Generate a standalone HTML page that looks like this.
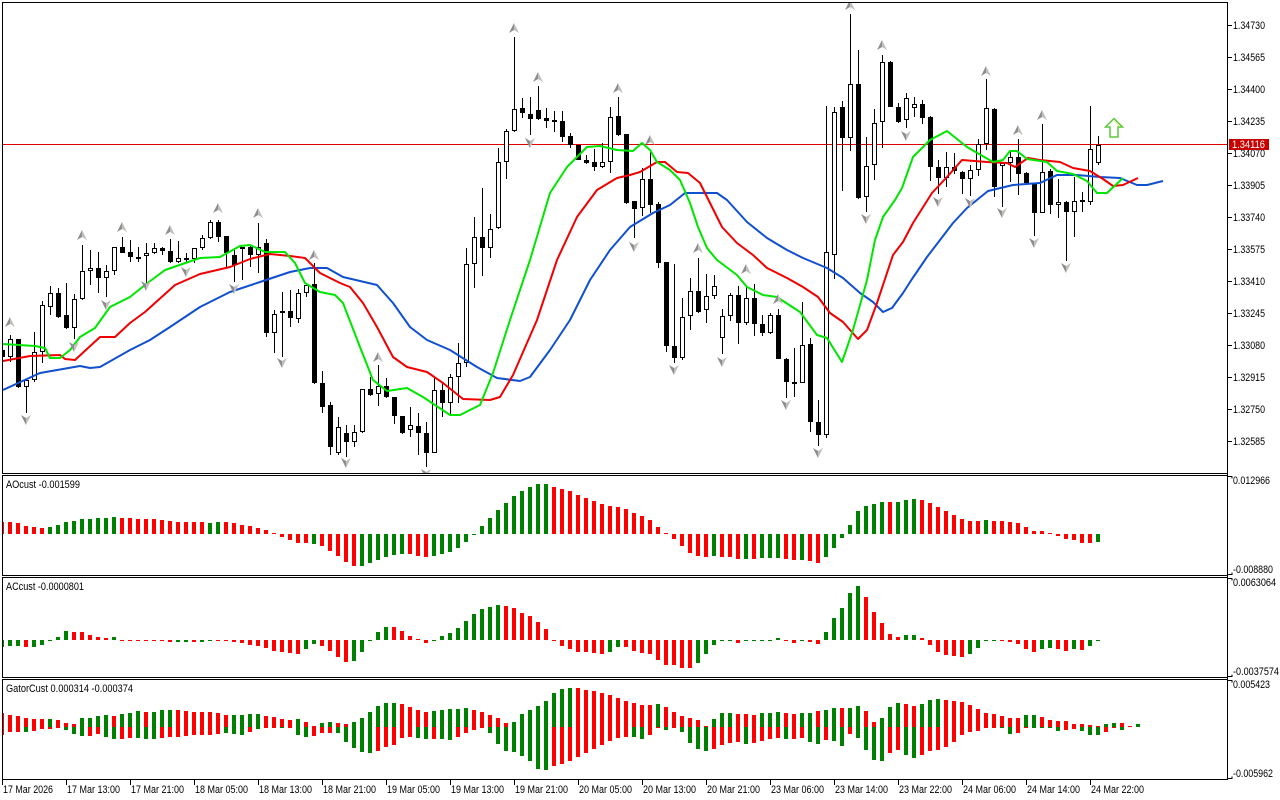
<!DOCTYPE html>
<html><head><meta charset="utf-8"><style>
html,body{margin:0;padding:0;background:#fff;}
svg{display:block;font-family:"Liberation Sans",Arial,sans-serif;}
</style></head><body>
<svg xmlns="http://www.w3.org/2000/svg" width="1280" height="800" viewBox="0 0 1280 800">
<defs>
<clipPath id="cm"><rect x="3" y="3" width="1224" height="470"/></clipPath>
<clipPath id="cs"><rect x="3" y="476" width="1224" height="303"/></clipPath>
<g id="fu"><path d="M0 -5L0 2L-5 5Z" fill="#8c8c94"/><path d="M0 -5L5 5L0 2Z" fill="#c4c0b8"/></g>
<g id="fd"><path d="M0 5L0 -2L-5 -5Z" fill="#8c8c94"/><path d="M0 5L5 -5L0 -2Z" fill="#c4c0b8"/></g>
</defs>
<rect width="1280" height="800" fill="#fff"/>

<g clip-path="url(#cm)">
<path d="M3 144.5H1227" stroke="#e00000" stroke-width="1" shape-rendering="crispEdges"/>
<path shape-rendering="crispEdges" stroke="#000" stroke-width="1" fill="none" d="M10.5 335V362M18.5 339V388M26.5 380V413M34.5 332V382M42.5 301V363M50.5 286V315M58.5 288V318M66.5 283V329M74.5 294V339M82.5 245V300M90.5 250V285M98.5 252V293M106.5 265V297M114.5 247V275M122.5 237V253M130.5 240V262M138.5 247V262M146.5 243V287M154.5 243V254M162.5 247V255M170.5 239V263M178.5 241V263M186.5 253V263M194.5 248V263M202.5 235V250M210.5 220V239M218.5 220V242M226.5 236V267M234.5 248V282M242.5 247V280M250.5 245V267M258.5 223V273M266.5 239V337M274.5 310V353M282.5 292V357M290.5 290V327M298.5 289V323M306.5 285V297M314.5 263V384M322.5 371V413M330.5 402V455M338.5 417V455M346.5 425V457M354.5 425V447M362.5 389V433M370.5 377V396M378.5 365V406M386.5 378V398M394.5 397V424M402.5 416V434M410.5 407V437M418.5 413V455M426.5 422V467M434.5 378V453M442.5 383V417M450.5 374V416M458.5 343V403M466.5 248V367M474.5 217V288M482.5 188V276M490.5 214V258M498.5 148V229M506.5 129V179M514.5 37V132M522.5 98V118M530.5 97V135M538.5 86V120M546.5 108V128M554.5 111V132M562.5 111V142M570.5 133V148M578.5 145V160M586.5 155V164M594.5 149V171M602.5 143V168M610.5 107V173M618.5 97V136M626.5 134V204M634.5 201V238M642.5 168V216M650.5 150V213M658.5 202V268M666.5 262V352M674.5 264V363M682.5 298V360M690.5 278V330M698.5 258V313M706.5 274V323M714.5 275V299M722.5 309V354M730.5 293V321M738.5 286V344M746.5 287V325M754.5 284V336M762.5 315V336M770.5 313V334M778.5 309V359M786.5 358V398M794.5 348V397M802.5 302V383M810.5 338V432M818.5 400V446M826.5 106V438M834.5 107V279M842.5 101V191M850.5 14V151M858.5 50V199M866.5 137V212M874.5 109V180M882.5 55V148M890.5 61V107M898.5 103V123M906.5 93V128M914.5 97V117M922.5 100V124M930.5 116V181M938.5 160V194M946.5 152V187M954.5 153V174M962.5 171V194M970.5 165V196M978.5 139V176M986.5 79V150M994.5 108V197M1002.5 163V207M1010.5 151V182M1018.5 139V195M1026.5 172V184M1034.5 183V236M1042.5 124V213M1050.5 169V214M1058.5 179V218M1066.5 201V261M1074.5 177V237M1082.5 192V212M1090.5 106V205M1098.5 136V165"/>
<path shape-rendering="crispEdges" fill="#000" d="M3 350h2V357h-2zM16 339h5V387h-5zM56 293h5V317h-5zM64 315h5V328h-5zM96 268h5V278h-5zM120 247h5V253h-5zM128 252h5V257h-5zM136 257h5V259h-5zM160 248h5V251h-5zM168 251h5V262h-5zM184 258h5V260h-5zM216 222h5V237h-5zM224 236h5V253h-5zM232 255h5V265h-5zM240 247h5V249h-5zM248 247h5V255h-5zM264 243h5V333h-5zM280 311h5V313h-5zM288 311h5V318h-5zM312 284h5V383h-5zM320 383h5V407h-5zM328 405h5V447h-5zM344 433h5V442h-5zM368 389h5V395h-5zM384 386h5V397h-5zM392 397h5V416h-5zM400 416h5V433h-5zM416 426h5V433h-5zM424 433h5V453h-5zM440 390h5V403h-5zM480 237h5V248h-5zM520 108h5V113h-5zM528 114h5V119h-5zM536 110h5V119h-5zM544 118h5V121h-5zM552 120h5V122h-5zM560 121h5V137h-5zM568 136h5V145h-5zM576 145h5V160h-5zM584 160h5V163h-5zM592 162h5V167h-5zM616 116h5V135h-5zM624 134h5V203h-5zM632 201h5V209h-5zM648 179h5V205h-5zM656 204h5V263h-5zM664 262h5V346h-5zM672 346h5V358h-5zM696 291h5V312h-5zM736 295h5V323h-5zM752 298h5V324h-5zM760 324h5V333h-5zM776 315h5V359h-5zM784 359h5V382h-5zM792 382h5V384h-5zM808 344h5V422h-5zM816 422h5V435h-5zM840 107h5V138h-5zM856 84h5V198h-5zM888 62h5V107h-5zM896 107h5V122h-5zM920 104h5V118h-5zM928 117h5V167h-5zM936 167h5V178h-5zM952 167h5V171h-5zM960 172h5V179h-5zM992 109h5V187h-5zM1016 157h5V174h-5zM1024 173h5V183h-5zM1032 183h5V213h-5zM1048 171h5V205h-5zM1064 202h5V212h-5zM1080 200h5V202h-5z"/>
<g shape-rendering="crispEdges" fill="#fff" stroke="#000" stroke-width="1">
<rect x="8.5" y="339.5" width="4" height="17"/><rect x="24.5" y="380.5" width="4" height="6"/><rect x="32.5" y="352.5" width="4" height="27"/><rect x="40.5" y="305.5" width="4" height="46"/><rect x="48.5" y="293.5" width="4" height="13"/><rect x="72.5" y="299.5" width="4" height="28"/><rect x="80.5" y="271.5" width="4" height="27"/><rect x="88.5" y="268.5" width="4" height="2"/><rect x="104.5" y="271.5" width="4" height="6"/><rect x="112.5" y="247.5" width="4" height="23"/><rect x="144.5" y="253.5" width="4" height="2"/><rect x="152.5" y="248.5" width="4" height="4"/><rect x="176.5" y="258.5" width="4" height="3"/><rect x="192.5" y="248.5" width="4" height="10"/><rect x="200.5" y="238.5" width="4" height="9"/><rect x="208.5" y="222.5" width="4" height="15"/><rect x="256.5" y="247.5" width="4" height="7"/><rect x="272.5" y="314.5" width="4" height="18"/><rect x="296.5" y="293.5" width="4" height="25"/><rect x="304.5" y="285.5" width="4" height="7"/><rect x="336.5" y="427.5" width="4" height="25"/><rect x="352.5" y="432.5" width="4" height="9"/><rect x="360.5" y="389.5" width="4" height="42"/><rect x="376.5" y="386.5" width="4" height="7"/><rect x="408.5" y="425.5" width="4" height="4"/><rect x="432.5" y="390.5" width="4" height="62"/><rect x="448.5" y="377.5" width="4" height="25"/><rect x="456.5" y="363.5" width="4" height="13"/><rect x="464.5" y="264.5" width="4" height="98"/><rect x="472.5" y="237.5" width="4" height="26"/><rect x="488.5" y="229.5" width="4" height="18"/><rect x="496.5" y="162.5" width="4" height="65"/><rect x="504.5" y="131.5" width="4" height="30"/><rect x="512.5" y="109.5" width="4" height="21"/><rect x="600.5" y="162.5" width="4" height="4"/><rect x="608.5" y="117.5" width="4" height="44"/><rect x="640.5" y="179.5" width="4" height="28"/><rect x="680.5" y="317.5" width="4" height="40"/><rect x="688.5" y="291.5" width="4" height="24"/><rect x="704.5" y="296.5" width="4" height="13"/><rect x="712.5" y="286.5" width="4" height="9"/><rect x="720.5" y="316.5" width="4" height="21"/><rect x="728.5" y="295.5" width="4" height="20"/><rect x="744.5" y="298.5" width="4" height="24"/><rect x="768.5" y="315.5" width="4" height="17"/><rect x="800.5" y="345.5" width="4" height="37"/><rect x="824.5" y="252.5" width="4" height="182"/><rect x="832.5" y="112.5" width="4" height="142"/><rect x="848.5" y="84.5" width="4" height="53"/><rect x="864.5" y="166.5" width="4" height="30"/><rect x="872.5" y="123.5" width="4" height="41"/><rect x="880.5" y="62.5" width="4" height="59"/><rect x="904.5" y="98.5" width="4" height="21"/><rect x="912.5" y="104.5" width="4" height="3"/><rect x="944.5" y="167.5" width="4" height="10"/><rect x="968.5" y="170.5" width="4" height="8"/><rect x="976.5" y="144.5" width="4" height="25"/><rect x="984.5" y="108.5" width="4" height="35"/><rect x="1000.5" y="163.5" width="4" height="2"/><rect x="1008.5" y="157.5" width="4" height="5"/><rect x="1040.5" y="172.5" width="4" height="40"/><rect x="1056.5" y="202.5" width="4" height="2"/><rect x="1072.5" y="201.5" width="4" height="10"/><rect x="1088.5" y="149.5" width="4" height="52"/><rect x="1096.5" y="145.5" width="4" height="17"/>
</g>
<g fill="none" stroke-width="2" stroke-linejoin="round">
<polyline stroke="#1050d0" points="3,390 40,373 80,366 90,368 100,367 130,350 150,340 170,327 200,307 230,292 260,282 290,272 310,268 327,268 343,277 377,285 393,303 410,327 427,340 450,350 477,367 497,378 520,381 530,377 550,350 570,320 590,280 610,250 630,227 653,213 670,205 685,193 717,193 727,200 747,222 767,238 787,250 803,258 827,268 843,278 860,293 873,302 883,312 892,308 903,293 912,279 927,257 953,223 967,208 988,191 1013,185 1040,183 1057,175 1077,175 1100,177 1120,178 1137,185 1147,185 1163,181"/>
<polyline stroke="#f00000" points="3,361 30,356 60,355 65,359 75,360 100,337 115,337 130,323 145,312 175,285 200,274 230,267 250,259 270,254 290,256 305,258 320,273 340,283 350,287 363,303 377,327 393,357 407,367 427,372 443,383 463,399 490,400 500,397 513,375 537,320 557,260 577,217 597,190 617,178 630,175 640,172 657,162 665,162 677,172 688,173 700,183 710,203 722,227 737,243 753,255 767,268 787,278 803,287 818,297 830,313 843,322 858,339 867,330 877,303 893,255 903,242 913,223 932,193 947,177 962,160 987,162 1007,163 1015,167 1028,158 1040,160 1060,162 1073,168 1090,171 1103,179 1113,186 1123,185 1138,178"/>
<polyline stroke="#00e600" points="3,344 35,346 45,348 50,358 60,358 70,350 80,337 95,328 110,307 130,297 145,285 165,270 200,258 220,257 240,246 250,245 265,252 285,252 295,263 305,283 310,286 320,292 335,295 343,303 360,347 373,380 387,391 407,388 423,397 450,415 460,415 480,405 493,373 510,320 530,260 550,193 567,167 587,147 600,146 617,150 633,151 642,143 650,150 657,162 670,170 680,180 690,203 698,227 707,248 717,260 737,275 747,287 763,295 777,297 800,312 817,335 827,338 842,362 853,330 867,280 875,240 883,217 895,200 902,188 913,157 930,140 947,131 967,147 993,162 1003,160 1010,151 1017,151 1027,159 1047,162 1057,171 1073,174 1087,181 1097,193 1107,193 1123,178"/>
</g>
<use href="#fu" x="10" y="322"/><use href="#fu" x="82" y="235"/><use href="#fu" x="122" y="227"/><use href="#fu" x="170" y="230"/><use href="#fu" x="218" y="208"/><use href="#fu" x="258" y="213"/><use href="#fu" x="314" y="255"/><use href="#fu" x="378" y="357"/><use href="#fu" x="514" y="28"/><use href="#fu" x="538" y="77"/><use href="#fu" x="618" y="88"/><use href="#fu" x="650" y="140"/><use href="#fu" x="698" y="248"/><use href="#fu" x="746" y="269"/><use href="#fu" x="778" y="299"/><use href="#fu" x="850" y="5"/><use href="#fu" x="882" y="45"/><use href="#fu" x="986" y="71"/><use href="#fu" x="1018" y="130"/><use href="#fu" x="1042" y="115"/>
<use href="#fd" x="26" y="420"/><use href="#fd" x="74" y="347"/><use href="#fd" x="106" y="305"/><use href="#fd" x="146" y="286"/><use href="#fd" x="186" y="272"/><use href="#fd" x="234" y="289"/><use href="#fd" x="282" y="363"/><use href="#fd" x="346" y="463"/><use href="#fd" x="426" y="474"/><use href="#fd" x="530" y="143"/><use href="#fd" x="634" y="247"/><use href="#fd" x="674" y="370"/><use href="#fd" x="722" y="362"/><use href="#fd" x="786" y="405"/><use href="#fd" x="818" y="453"/><use href="#fd" x="866" y="219"/><use href="#fd" x="906" y="136"/><use href="#fd" x="938" y="202"/><use href="#fd" x="970" y="203"/><use href="#fd" x="1002" y="213"/><use href="#fd" x="1034" y="243"/><use href="#fd" x="1066" y="268"/>
<path d="M1114 118.5L1122.5 127H1118V137H1110V127H1105.5Z" fill="#fff" stroke="#5cc83a" stroke-width="1.5"/>
<path d="M1114 121L1120 126.5" stroke="#e8e070" stroke-width="0.8" fill="none"/>
</g>

<g clip-path="url(#cs)" shape-rendering="crispEdges">
<path fill="#ff0000" d="M3 522h1V534h-1zM8 522h4V534h-4zM16 523h4V534h-4zM24 526h4V534h-4zM32 527h4V534h-4zM40 528h4V534h-4zM120 518h4V534h-4zM128 518h4V534h-4zM136 519h4V534h-4zM144 519h4V534h-4zM152 519h4V534h-4zM160 520h4V534h-4zM168 521h4V534h-4zM176 522h4V534h-4zM184 522h4V534h-4zM192 522h4V534h-4zM200 522h4V534h-4zM224 522h4V534h-4zM232 523h4V534h-4zM240 525h4V534h-4zM248 526h4V534h-4zM256 528h4V534h-4zM264 530h4V534h-4zM272 533h4V534h-4zM280 537h4V534h-4zM288 540h4V534h-4zM296 543h4V534h-4zM304 543h4V534h-4zM320 546h4V534h-4zM328 551h4V534h-4zM336 556h4V534h-4zM344 562h4V534h-4zM352 566h4V534h-4zM408 554h4V534h-4zM416 556h4V534h-4zM424 557h4V534h-4zM552 487h4V534h-4zM560 489h4V534h-4zM568 491h4V534h-4zM576 495h4V534h-4zM584 498h4V534h-4zM592 501h4V534h-4zM600 504h4V534h-4zM608 506h4V534h-4zM616 507h4V534h-4zM624 509h4V534h-4zM632 513h4V534h-4zM640 516h4V534h-4zM648 520h4V534h-4zM656 527h4V534h-4zM664 533h4V534h-4zM672 539h4V534h-4zM680 546h4V534h-4zM688 553h4V534h-4zM696 556h4V534h-4zM704 557h4V534h-4zM720 557h4V534h-4zM728 557h4V534h-4zM736 559h4V534h-4zM752 559h4V534h-4zM784 559h4V534h-4zM792 560h4V534h-4zM808 561h4V534h-4zM816 563h4V534h-4zM888 502h4V534h-4zM920 500h4V534h-4zM928 503h4V534h-4zM936 507h4V534h-4zM944 511h4V534h-4zM952 515h4V534h-4zM960 519h4V534h-4zM968 521h4V534h-4zM976 521h4V534h-4zM992 521h4V534h-4zM1000 521h4V534h-4zM1008 522h4V534h-4zM1016 523h4V534h-4zM1024 527h4V534h-4zM1032 531h4V534h-4zM1040 531h4V534h-4zM1048 533h4V534h-4zM1056 536h4V534h-4zM1064 539h4V534h-4zM1072 540h4V534h-4zM1080 543h4V534h-4zM1088 543h4V534h-4z"/>
<path fill="#008000" d="M48 527h4V534h-4zM56 525h4V534h-4zM64 522h4V534h-4zM72 521h4V534h-4zM80 519h4V534h-4zM88 519h4V534h-4zM96 518h4V534h-4zM104 518h4V534h-4zM112 517h4V534h-4zM208 523h4V534h-4zM216 522h4V534h-4zM312 544h4V534h-4zM360 566h4V534h-4zM368 563h4V534h-4zM376 560h4V534h-4zM384 557h4V534h-4zM392 555h4V534h-4zM400 554h4V534h-4zM432 556h4V534h-4zM440 554h4V534h-4zM448 552h4V534h-4zM456 548h4V534h-4zM464 542h4V534h-4zM472 535h4V534h-4zM480 526h4V534h-4zM488 518h4V534h-4zM496 510h4V534h-4zM504 503h4V534h-4zM512 496h4V534h-4zM520 491h4V534h-4zM528 487h4V534h-4zM536 484h4V534h-4zM544 484h4V534h-4zM712 556h4V534h-4zM744 559h4V534h-4zM760 558h4V534h-4zM768 558h4V534h-4zM776 558h4V534h-4zM800 560h4V534h-4zM824 557h4V534h-4zM832 548h4V534h-4zM840 538h4V534h-4zM848 525h4V534h-4zM856 511h4V534h-4zM864 506h4V534h-4zM872 504h4V534h-4zM880 502h4V534h-4zM896 502h4V534h-4zM904 500h4V534h-4zM912 499h4V534h-4zM984 520h4V534h-4zM1096 542h4V534h-4z"/>
<path fill="#ff0000" d="M24 647h4V640h-4zM72 632h4V640h-4zM80 632h4V640h-4zM88 635h4V640h-4zM96 637h4V640h-4zM104 638h4V640h-4zM120 641h4V640h-4zM128 641h4V640h-4zM136 641h4V640h-4zM144 641h4V640h-4zM152 641h4V640h-4zM160 641h4V640h-4zM168 642h4V640h-4zM192 642h4V640h-4zM216 641h4V640h-4zM224 641h4V640h-4zM232 642h4V640h-4zM240 643h4V640h-4zM248 645h4V640h-4zM256 646h4V640h-4zM264 648h4V640h-4zM272 651h4V640h-4zM280 652h4V640h-4zM288 653h4V640h-4zM296 654h4V640h-4zM320 646h4V640h-4zM328 651h4V640h-4zM336 657h4V640h-4zM344 662h4V640h-4zM392 627h4V640h-4zM400 631h4V640h-4zM408 636h4V640h-4zM416 639h4V640h-4zM424 643h4V640h-4zM504 606h4V640h-4zM512 608h4V640h-4zM520 613h4V640h-4zM528 616h4V640h-4zM536 622h4V640h-4zM544 629h4V640h-4zM552 641h4V640h-4zM560 646h4V640h-4zM568 649h4V640h-4zM576 652h4V640h-4zM584 652h4V640h-4zM592 653h4V640h-4zM600 654h4V640h-4zM624 647h4V640h-4zM632 651h4V640h-4zM640 653h4V640h-4zM648 654h4V640h-4zM656 660h4V640h-4zM664 665h4V640h-4zM672 665h4V640h-4zM680 668h4V640h-4zM688 668h4V640h-4zM736 643h4V640h-4zM784 641h4V640h-4zM792 643h4V640h-4zM808 642h4V640h-4zM816 644h4V640h-4zM864 597h4V640h-4zM872 612h4V640h-4zM880 623h4V640h-4zM888 634h4V640h-4zM896 637h4V640h-4zM920 638h4V640h-4zM928 645h4V640h-4zM936 652h4V640h-4zM944 655h4V640h-4zM952 656h4V640h-4zM960 657h4V640h-4zM1000 641h4V640h-4zM1008 642h4V640h-4zM1016 644h4V640h-4zM1024 649h4V640h-4zM1032 652h4V640h-4zM1056 649h4V640h-4zM1064 651h4V640h-4zM1080 650h4V640h-4z"/>
<path fill="#008000" d="M3 647h1V640h-1zM8 646h4V640h-4zM16 646h4V640h-4zM32 647h4V640h-4zM40 645h4V640h-4zM48 641h4V640h-4zM56 637h4V640h-4zM64 631h4V640h-4zM112 637h4V640h-4zM176 642h4V640h-4zM184 642h4V640h-4zM200 642h4V640h-4zM208 641h4V640h-4zM304 649h4V640h-4zM312 644h4V640h-4zM352 661h4V640h-4zM360 652h4V640h-4zM368 641h4V640h-4zM376 632h4V640h-4zM384 627h4V640h-4zM432 641h4V640h-4zM440 636h4V640h-4zM448 633h4V640h-4zM456 628h4V640h-4zM464 621h4V640h-4zM472 614h4V640h-4zM480 609h4V640h-4zM488 607h4V640h-4zM496 605h4V640h-4zM608 652h4V640h-4zM616 647h4V640h-4zM696 663h4V640h-4zM704 654h4V640h-4zM712 645h4V640h-4zM720 641h4V640h-4zM728 641h4V640h-4zM744 641h4V640h-4zM752 641h4V640h-4zM760 641h4V640h-4zM768 641h4V640h-4zM776 638h4V640h-4zM800 641h4V640h-4zM824 632h4V640h-4zM832 618h4V640h-4zM840 608h4V640h-4zM848 593h4V640h-4zM856 586h4V640h-4zM904 635h4V640h-4zM912 635h4V640h-4zM968 654h4V640h-4zM976 648h4V640h-4zM984 641h4V640h-4zM992 641h4V640h-4zM1040 649h4V640h-4zM1048 648h4V640h-4zM1072 649h4V640h-4zM1088 646h4V640h-4zM1096 641h4V640h-4z"/>
<path fill="#ff0000" d="M3 713h1V727h-1zM8 715h4V727h-4zM16 716h4V727h-4zM24 718h4V727h-4zM32 719h4V727h-4zM40 719h4V727h-4zM56 720h4V727h-4zM64 723h4V727h-4zM72 724h4V727h-4zM112 716h4V727h-4zM144 712h4V727h-4zM176 710h4V727h-4zM184 711h4V727h-4zM192 712h4V727h-4zM200 712h4V727h-4zM208 712h4V727h-4zM216 713h4V727h-4zM224 715h4V727h-4zM264 716h4V727h-4zM272 717h4V727h-4zM280 719h4V727h-4zM288 720h4V727h-4zM304 722h4V727h-4zM312 726h4V727h-4zM336 723h4V727h-4zM344 724h4V727h-4zM400 704h4V727h-4zM408 707h4V727h-4zM416 710h4V727h-4zM424 712h4V727h-4zM472 710h4V727h-4zM480 712h4V727h-4zM488 715h4V727h-4zM496 718h4V727h-4zM504 723h4V727h-4zM576 688h4V727h-4zM584 690h4V727h-4zM592 691h4V727h-4zM600 693h4V727h-4zM608 695h4V727h-4zM616 698h4V727h-4zM624 701h4V727h-4zM632 703h4V727h-4zM640 705h4V727h-4zM648 705h4V727h-4zM664 707h4V727h-4zM672 712h4V727h-4zM680 716h4V727h-4zM688 718h4V727h-4zM696 720h4V727h-4zM704 726h4V727h-4zM736 714h4V727h-4zM744 714h4V727h-4zM752 715h4V727h-4zM784 713h4V727h-4zM792 714h4V727h-4zM816 711h4V727h-4zM840 708h4V727h-4zM864 711h4V727h-4zM872 722h4V727h-4zM904 704h4V727h-4zM912 706h4V727h-4zM944 700h4V727h-4zM952 701h4V727h-4zM960 702h4V727h-4zM968 705h4V727h-4zM976 709h4V727h-4zM984 713h4V727h-4zM992 714h4V727h-4zM1000 716h4V727h-4zM1008 718h4V727h-4zM1016 718h4V727h-4zM1040 717h4V727h-4zM1048 720h4V727h-4zM1056 721h4V727h-4zM1064 721h4V727h-4zM1072 724h4V727h-4zM1080 724h4V727h-4zM1088 725h4V727h-4zM1096 726h4V727h-4zM1120 723h4V727h-4zM1128 726h4V727h-4zM3 735h1V727h-1zM8 732h4V727h-4zM16 732h4V727h-4zM32 731h4V727h-4zM40 729h4V727h-4zM48 729h4V727h-4zM56 728h4V727h-4zM88 736h4V727h-4zM96 734h4V727h-4zM120 739h4V727h-4zM128 738h4V727h-4zM160 738h4V727h-4zM168 737h4V727h-4zM176 737h4V727h-4zM184 736h4V727h-4zM192 735h4V727h-4zM200 735h4V727h-4zM208 735h4V727h-4zM216 734h4V727h-4zM248 732h4V727h-4zM264 728h4V727h-4zM272 728h4V727h-4zM288 728h4V727h-4zM312 736h4V727h-4zM320 733h4V727h-4zM328 733h4V727h-4zM376 751h4V727h-4zM384 747h4V727h-4zM392 745h4V727h-4zM400 738h4V727h-4zM408 737h4V727h-4zM432 739h4V727h-4zM456 737h4V727h-4zM464 733h4V727h-4zM472 730h4V727h-4zM480 728h4V727h-4zM552 766h4V727h-4zM560 764h4V727h-4zM568 761h4V727h-4zM576 757h4V727h-4zM584 753h4V727h-4zM592 749h4V727h-4zM600 745h4V727h-4zM608 741h4V727h-4zM616 738h4V727h-4zM624 737h4V727h-4zM648 735h4V727h-4zM656 728h4V727h-4zM672 728h4V727h-4zM712 749h4V727h-4zM720 745h4V727h-4zM728 743h4V727h-4zM736 742h4V727h-4zM752 743h4V727h-4zM760 741h4V727h-4zM768 739h4V727h-4zM776 738h4V727h-4zM792 739h4V727h-4zM800 738h4V727h-4zM824 740h4V727h-4zM848 734h4V727h-4zM888 753h4V727h-4zM896 750h4V727h-4zM920 755h4V727h-4zM928 751h4V727h-4zM936 750h4V727h-4zM944 747h4V727h-4zM952 742h4V727h-4zM960 735h4V727h-4zM968 732h4V727h-4zM976 731h4V727h-4zM984 728h4V727h-4zM992 728h4V727h-4zM1016 733h4V727h-4zM1024 728h4V727h-4zM1064 730h4V727h-4zM1072 729h4V727h-4zM1104 732h4V727h-4zM1112 728h4V727h-4z"/>
<path fill="#008000" d="M48 719h4V727h-4zM80 718h4V727h-4zM88 718h4V727h-4zM96 716h4V727h-4zM104 715h4V727h-4zM120 714h4V727h-4zM128 713h4V727h-4zM136 711h4V727h-4zM152 712h4V727h-4zM160 710h4V727h-4zM168 710h4V727h-4zM232 715h4V727h-4zM240 715h4V727h-4zM248 714h4V727h-4zM256 714h4V727h-4zM296 719h4V727h-4zM320 723h4V727h-4zM328 722h4V727h-4zM352 722h4V727h-4zM360 718h4V727h-4zM368 712h4V727h-4zM376 706h4V727h-4zM384 703h4V727h-4zM392 703h4V727h-4zM432 711h4V727h-4zM440 710h4V727h-4zM448 709h4V727h-4zM456 709h4V727h-4zM464 708h4V727h-4zM512 722h4V727h-4zM520 714h4V727h-4zM528 710h4V727h-4zM536 706h4V727h-4zM544 701h4V727h-4zM552 693h4V727h-4zM560 689h4V727h-4zM568 688h4V727h-4zM656 704h4V727h-4zM712 719h4V727h-4zM720 713h4V727h-4zM728 713h4V727h-4zM760 713h4V727h-4zM768 713h4V727h-4zM776 712h4V727h-4zM800 713h4V727h-4zM808 713h4V727h-4zM824 710h4V727h-4zM832 708h4V727h-4zM848 708h4V727h-4zM856 706h4V727h-4zM880 718h4V727h-4zM888 707h4V727h-4zM896 703h4V727h-4zM920 704h4V727h-4zM928 700h4V727h-4zM936 699h4V727h-4zM1024 715h4V727h-4zM1032 715h4V727h-4zM1104 724h4V727h-4zM1112 723h4V727h-4zM1136 724h4V727h-4zM24 732h4V727h-4zM64 730h4V727h-4zM72 734h4V727h-4zM80 736h4V727h-4zM104 737h4V727h-4zM112 739h4V727h-4zM136 738h4V727h-4zM144 739h4V727h-4zM152 739h4V727h-4zM224 733h4V727h-4zM232 734h4V727h-4zM240 735h4V727h-4zM256 729h4V727h-4zM280 728h4V727h-4zM296 735h4V727h-4zM304 737h4V727h-4zM336 733h4V727h-4zM344 742h4V727h-4zM352 748h4V727h-4zM360 752h4V727h-4zM368 753h4V727h-4zM416 738h4V727h-4zM424 739h4V727h-4zM440 739h4V727h-4zM448 740h4V727h-4zM488 733h4V727h-4zM496 744h4V727h-4zM504 751h4V727h-4zM512 752h4V727h-4zM520 756h4V727h-4zM528 761h4V727h-4zM536 769h4V727h-4zM544 770h4V727h-4zM632 737h4V727h-4zM640 739h4V727h-4zM664 730h4V727h-4zM680 732h4V727h-4zM688 743h4V727h-4zM696 749h4V727h-4zM704 751h4V727h-4zM744 744h4V727h-4zM784 739h4V727h-4zM808 742h4V727h-4zM816 744h4V727h-4zM832 741h4V727h-4zM840 746h4V727h-4zM856 738h4V727h-4zM864 750h4V727h-4zM872 760h4V727h-4zM880 761h4V727h-4zM904 755h4V727h-4zM912 758h4V727h-4zM1000 728h4V727h-4zM1008 734h4V727h-4zM1032 728h4V727h-4zM1040 728h4V727h-4zM1048 728h4V727h-4zM1056 731h4V727h-4zM1080 731h4V727h-4zM1088 735h4V727h-4zM1096 735h4V727h-4zM1120 730h4V727h-4z"/>
</g>

<g fill="none" stroke="#000" stroke-width="1" shape-rendering="crispEdges">
<rect x="2.5" y="2.5" width="1225" height="471"/>
<rect x="2.5" y="475.5" width="1225" height="100"/>
<rect x="2.5" y="577.5" width="1225" height="100"/>
<rect x="2.5" y="679.5" width="1225" height="100"/>
<path d="M1227.5 2V780"/>
<path d="M1228 25.5h4M1228 57.5h4M1228 89.5h4M1228 121.5h4M1228 153.5h4M1228 185.5h4M1228 217.5h4M1228 249.5h4M1228 281.5h4M1228 313.5h4M1228 345.5h4M1228 377.5h4M1228 409.5h4M1228 441.5h4"/>
<path d="M1228 476.5h4v2M1228 574.5h4v-2M1228 578.5h4v2M1228 676.5h4v-2M1228 680.5h4v2M1228 778.5h4v-2"/>
<path d="M2.5 780V785M66.5 780V785M130.5 780V785M194.5 780V785M258.5 780V785M322.5 780V785M386.5 780V785M450.5 780V785M514.5 780V785M578.5 780V785M642.5 780V785M706.5 780V785M770.5 780V785M834.5 780V785M898.5 780V785M962.5 780V785M1026.5 780V785M1090.5 780V785"/>
</g>

<g font-size="11" fill="#000">
<text x="1233" y="29" textLength="32" lengthAdjust="spacingAndGlyphs">1.34730</text>
<text x="1233" y="61" textLength="32" lengthAdjust="spacingAndGlyphs">1.34565</text>
<text x="1233" y="93" textLength="32" lengthAdjust="spacingAndGlyphs">1.34400</text>
<text x="1233" y="125" textLength="32" lengthAdjust="spacingAndGlyphs">1.34235</text>
<text x="1233" y="157" textLength="32" lengthAdjust="spacingAndGlyphs">1.34070</text>
<text x="1233" y="189" textLength="32" lengthAdjust="spacingAndGlyphs">1.33905</text>
<text x="1233" y="221" textLength="32" lengthAdjust="spacingAndGlyphs">1.33740</text>
<text x="1233" y="253" textLength="32" lengthAdjust="spacingAndGlyphs">1.33575</text>
<text x="1233" y="285" textLength="32" lengthAdjust="spacingAndGlyphs">1.33410</text>
<text x="1233" y="317" textLength="32" lengthAdjust="spacingAndGlyphs">1.33245</text>
<text x="1233" y="349" textLength="32" lengthAdjust="spacingAndGlyphs">1.33080</text>
<text x="1233" y="381" textLength="32" lengthAdjust="spacingAndGlyphs">1.32915</text>
<text x="1233" y="413" textLength="32" lengthAdjust="spacingAndGlyphs">1.32750</text>
<text x="1233" y="445" textLength="32" lengthAdjust="spacingAndGlyphs">1.32585</text>
<text x="1233" y="484" textLength="37" lengthAdjust="spacingAndGlyphs">0.012966</text>
<text x="1233" y="573" textLength="40" lengthAdjust="spacingAndGlyphs">-0.008880</text>
<text x="1233" y="586" textLength="43" lengthAdjust="spacingAndGlyphs">0.0063064</text>
<text x="1233" y="675" textLength="46" lengthAdjust="spacingAndGlyphs">-0.0037574</text>
<text x="1233" y="688" textLength="37" lengthAdjust="spacingAndGlyphs">0.005423</text>
<text x="1233" y="777" textLength="40" lengthAdjust="spacingAndGlyphs">-0.005962</text>
</g>
<rect x="1229" y="139" width="40" height="11" fill="#c80000"/>
<text x="1232" y="148" font-size="11" fill="#fff" textLength="33" lengthAdjust="spacingAndGlyphs">1.34116</text>

<g font-size="11" fill="#000">
<text x="6" y="488" textLength="74" lengthAdjust="spacingAndGlyphs">AOcust -0.001599</text>
<text x="6" y="590" textLength="78" lengthAdjust="spacingAndGlyphs">ACcust -0.0000801</text>
<text x="6" y="692" textLength="127" lengthAdjust="spacingAndGlyphs">GatorCust 0.000314 -0.000374</text>
</g>

<g font-size="11" fill="#000">
<text x="3" y="793" textLength="50" lengthAdjust="spacingAndGlyphs">17 Mar 2026</text>
<text x="67" y="793" textLength="53" lengthAdjust="spacingAndGlyphs">17 Mar 13:00</text>
<text x="131" y="793" textLength="53" lengthAdjust="spacingAndGlyphs">17 Mar 21:00</text>
<text x="195" y="793" textLength="53" lengthAdjust="spacingAndGlyphs">18 Mar 05:00</text>
<text x="259" y="793" textLength="53" lengthAdjust="spacingAndGlyphs">18 Mar 13:00</text>
<text x="323" y="793" textLength="53" lengthAdjust="spacingAndGlyphs">18 Mar 21:00</text>
<text x="387" y="793" textLength="53" lengthAdjust="spacingAndGlyphs">19 Mar 05:00</text>
<text x="451" y="793" textLength="53" lengthAdjust="spacingAndGlyphs">19 Mar 13:00</text>
<text x="515" y="793" textLength="53" lengthAdjust="spacingAndGlyphs">19 Mar 21:00</text>
<text x="579" y="793" textLength="53" lengthAdjust="spacingAndGlyphs">20 Mar 05:00</text>
<text x="643" y="793" textLength="53" lengthAdjust="spacingAndGlyphs">20 Mar 13:00</text>
<text x="707" y="793" textLength="53" lengthAdjust="spacingAndGlyphs">20 Mar 21:00</text>
<text x="771" y="793" textLength="53" lengthAdjust="spacingAndGlyphs">23 Mar 06:00</text>
<text x="835" y="793" textLength="53" lengthAdjust="spacingAndGlyphs">23 Mar 14:00</text>
<text x="899" y="793" textLength="53" lengthAdjust="spacingAndGlyphs">23 Mar 22:00</text>
<text x="963" y="793" textLength="53" lengthAdjust="spacingAndGlyphs">24 Mar 06:00</text>
<text x="1027" y="793" textLength="53" lengthAdjust="spacingAndGlyphs">24 Mar 14:00</text>
<text x="1091" y="793" textLength="53" lengthAdjust="spacingAndGlyphs">24 Mar 22:00</text>
</g>
</svg>
</body></html>
